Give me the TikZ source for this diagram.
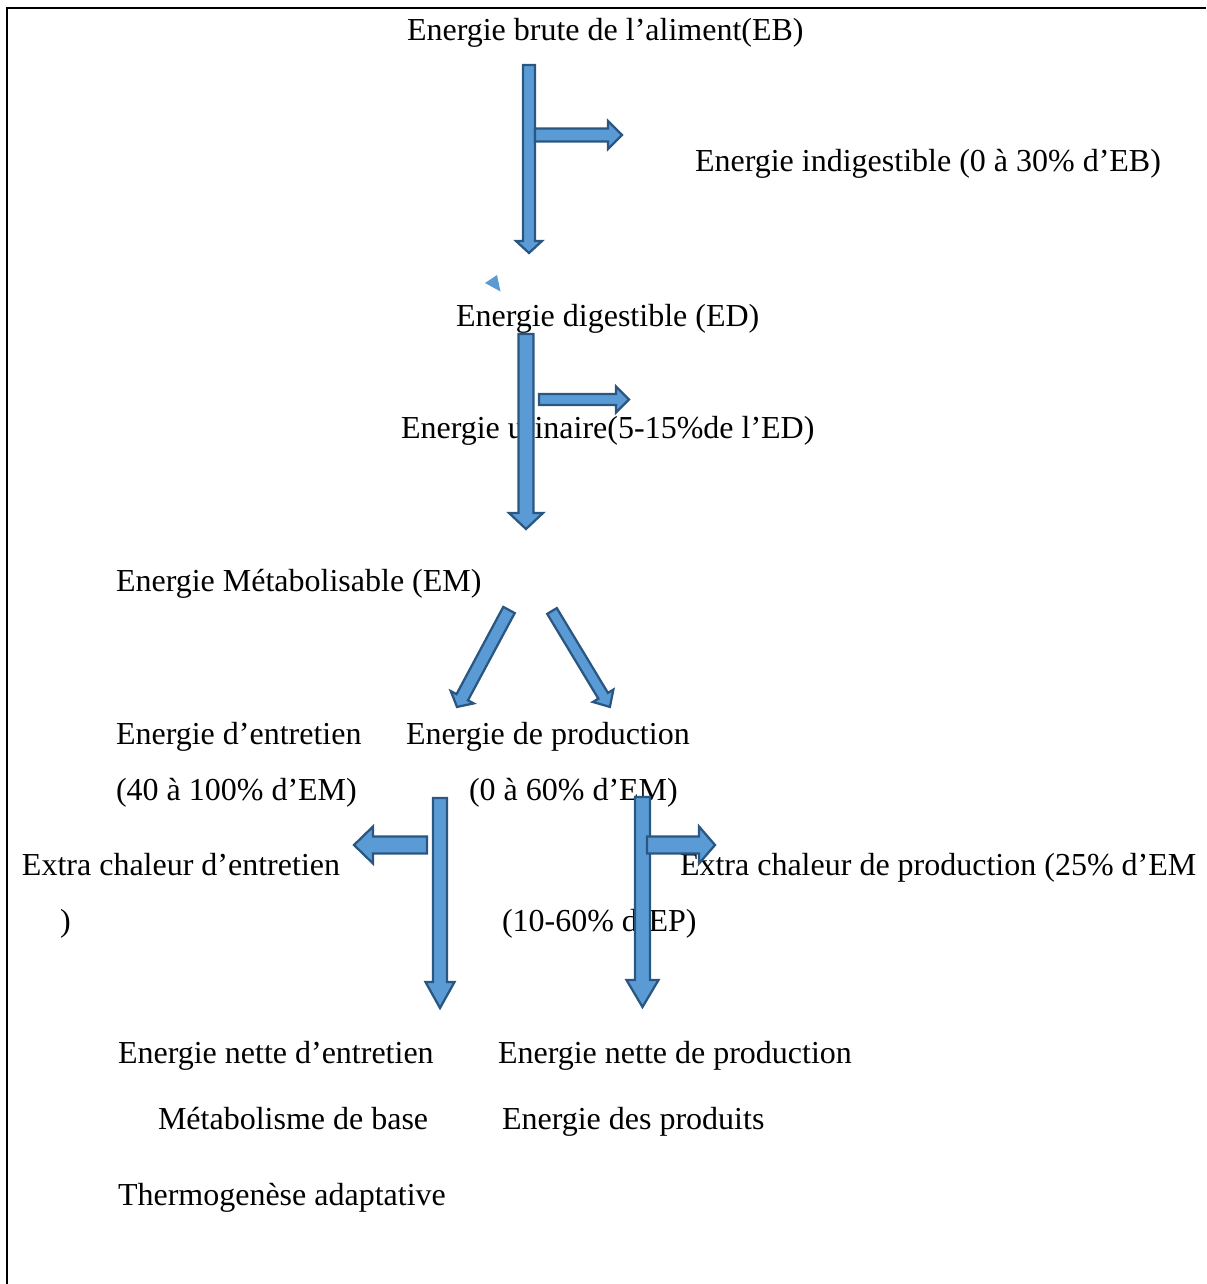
\documentclass[tikz,border=0pt]{standalone}
\usepackage{fontspec}
\setmainfont{Liberation Serif}
\usepackage{xcolor}
\usepackage{tikz}
\usetikzlibrary{arrows.meta,calc}

\definecolor{flechefond}{HTML}{5B9BD5}
\definecolor{flechetrait}{HTML}{2A5782}

\tikzset{
  etiq/.style={anchor=base west, inner sep=0pt, outer sep=0pt},
  fleche/.style={fill=flechefond, draw=flechetrait, line width=0.85pt, line join=miter},
  % flèche pleine : longueur, demi-largeur du corps, demi-largeur de la tête, longueur de la tête
  pics/blocfleche/.style n args={4}{code={
    \draw[fleche] (0,-#2) -- ({#1-#4},-#2) -- ({#1-#4},-#3) -- (#1,0)
      -- ({#1-#4},#3) -- ({#1-#4},#2) -- (0,#2) -- cycle;
  }}
}

\begin{document}
\begin{tikzpicture}[
  x=0.375pt, y=-0.375pt,
  font=\fontsize{12}{14}\selectfont
]
\useasboundingbox (0,0) rectangle (1206,1284);

% cadre (haut et gauche seulement)
\draw[line width=1pt] (7,1284) -- (7,8) -- (1206,8);

% ==================== Textes ====================
\node (eb)   [etiq] at (407,41)   {Energie brute de l’aliment(EB)};
\node (ei)   [etiq] at (695,171.5) {Energie indigestible (0 à 30\% d’EB)};
\node (ed)   [etiq] at (456,326)  {Energie digestible (ED)};
\node (eu)   [etiq] at (401,438)  {Energie urinaire(5-15\%de l’ED)};
\node (em)   [etiq] at (116,591)  {Energie Métabolisable (EM)};

\node (ee)   [etiq] at (116,744)  {Energie d’entretien};
\node (ep)   [etiq] at (406,744)  {Energie de production};
\node (eepc) [etiq] at (116,800)  {(40 à 100\% d’EM)};
\node (eppc) [etiq] at (469,800)  {(0 à 60\% d’EM)};

\node (xce)  [etiq] at (22,875)   {Extra chaleur d’entretien};
\node (xcp)  [etiq] at (680,875)  {Extra chaleur de production (25\% d’EM};
\node (par)  [etiq] at (60,931)   {)};
\node (xcpc) [etiq] at (502,931)  {(10-60\% d’EP)};

\node (ene)  [etiq] at (118,1063) {Energie nette d’entretien};
\node (enp)  [etiq] at (498,1063) {Energie nette de production};
\node (mb)   [etiq] at (158,1129) {Métabolisme de base};
\node (edp)  [etiq] at (502,1129) {Energie des produits};
\node (ta)   [etiq] at (118,1205) {Thermogenèse adaptative};

% ==================== Flèches ====================
% EB -> ED, pertes indigestibles
\pic[rotate=-90] at (529,65)    {blocfleche={188}{6}{13}{12}};
\pic              at (535,135)   {blocfleche={87}{6.5}{14}{14}};

% petit triangle isolé
\fill[flechefond] (485,283) -- (497,275) -- (500.5,291.5) -- cycle;

% ED -> EM, pertes urinaires
\pic[rotate=-90] at (526,334)   {blocfleche={195}{7.5}{17}{16}};
\pic              at (539,399.5) {blocfleche={90}{5.5}{13}{13}};

% EM -> entretien / production
\pic[rotate=-118.2] at (509,610) {blocfleche={110}{6.5}{13}{11}};
\pic[rotate=-58.9]  at (552,611) {blocfleche={112}{5.6}{12}{13}};

% entretien -> énergie nette, extra chaleur
\pic[rotate=-90] at (440,798)   {blocfleche={210}{7}{14.5}{26}};
\pic[rotate=180] at (427,845)   {blocfleche={73}{8.5}{18.5}{19}};

% production -> énergie nette, extra chaleur
\pic[rotate=-90] at (642.5,797) {blocfleche={210}{7.5}{16}{27}};
\pic              at (647,845)   {blocfleche={68}{8.5}{18.5}{16}};

\end{tikzpicture}
\end{document}
